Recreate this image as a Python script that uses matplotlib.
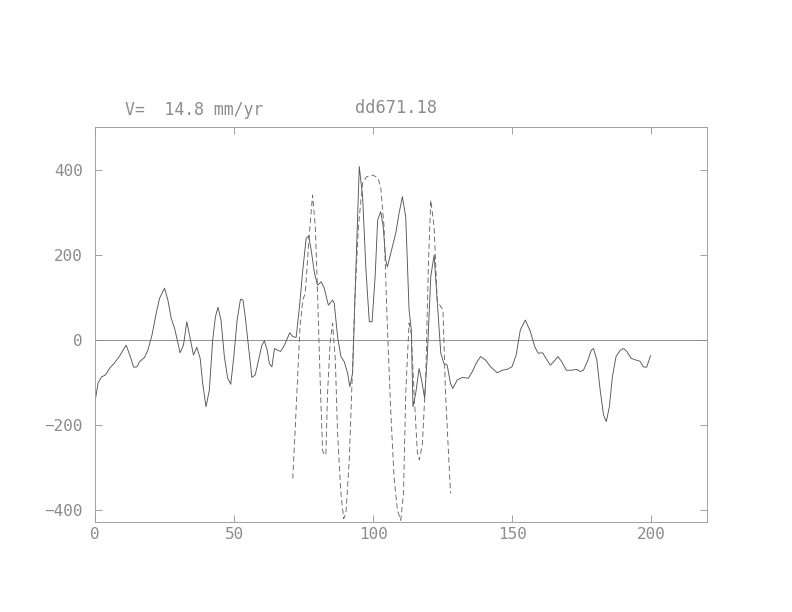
import numpy as np
import matplotlib
matplotlib.use('Agg')
import matplotlib.pyplot as plt

# Solid trace
x_solid = [0.2, 1.1, 2.3, 3.8, 5.3, 7.0, 8.8, 11.2, 12.7, 13.9, 15.1, 16.0, 17.8, 19.0,
           20.5, 22.0, 23.2, 25.0, 26.2, 27.4, 28.6, 30.6, 31.8, 33.0, 34.2, 35.4, 36.6,
           37.8, 38.7, 39.9, 41.1, 42.3, 43.3, 44.2, 45.3, 46.5, 47.7, 48.8, 49.9, 51.1,
           52.3, 53.2, 54.0, 55.2, 56.4, 57.6, 58.8, 60.0, 60.9, 61.9, 62.7, 63.6, 64.5,
           65.7, 66.7, 68.1, 70.0, 71.1, 72.3, 73.5, 74.7, 75.9, 76.8, 77.7, 78.9, 80.0,
           81.3, 82.4, 83.9, 85.4, 86.0, 87.2, 88.4, 89.6, 90.8, 91.6, 92.6, 93.5, 95.0,
           96.2, 97.4, 98.6, 99.6, 100.7, 101.6, 102.7, 103.6, 104.5, 105.1, 106.3, 108.1,
           109.3, 110.5, 111.7, 112.9, 113.7, 114.3, 115.3, 116.5, 117.4, 118.5, 119.5,
           120.7, 121.9, 123.0, 124.3, 125.4, 126.6, 127.8, 128.6, 130.2, 132.0, 134.2,
           135.6, 137.0, 138.6, 140.4, 142.2, 144.6, 146.4, 148.1, 149.9, 151.4, 152.9,
           154.7, 156.5, 158.1, 159.3, 160.9, 162.1, 163.7, 164.9, 166.4, 167.8, 169.4,
           171.4, 173.2, 174.4, 175.6, 177.2, 178.4, 179.2, 180.4, 181.6, 182.8, 183.8,
           184.9, 186.0, 187.3, 188.8, 190.0, 191.2, 192.7, 194.4, 195.9, 197.1, 198.3,
           199.7]
y_solid = [-137, -101, -87, -82, -66, -54, -38, -12, -39, -64, -63, -51, -41, -24,
           12, 63, 98, 122, 94, 51, 28, -30, -12, 43, 4, -35, -17,
           -43, -101, -157, -118, 0, 55, 77, 47, -39, -90, -104, -39, 47,
           96, 94, 55, -16, -88, -82, -47, -12, -2, -24, -56, -63, -20,
           -24, -27, -12, 17, 8, 6, 78, 165, 239, 245, 212, 157, 129,
           137, 122, 82, 94, 86, 8, -39, -51, -78, -110, -78, 110, 408,
           337, 165, 43, 43, 149, 282, 302, 267, 188, 172, 204, 251,
           298, 337, 290, 71, 24, -157, -125, -67, -94, -137, -31,
           149, 200, 94, -31, -55, -59, -102, -114, -94, -88, -90,
           -75, -55, -39, -47, -63, -77, -71, -69, -63, -35, 24,
           47, 20, -16, -31, -30, -43, -59, -51, -39, -51, -71,
           -71, -69, -74, -71, -47, -24, -20, -47, -118, -176, -192,
           -157, -86, -39, -24, -20, -27, -43, -47, -50, -63, -64,
           -37]

# Dashed trace
x_dash = [71.1, 72.0, 72.9, 73.7, 74.7, 75.6, 76.8, 78.2, 79.2, 80.0, 80.9, 81.8, 82.4,
          83.0, 83.6, 84.5, 85.4, 86.4, 87.2, 88.4, 89.4, 90.2, 91.4, 92.6, 93.5, 94.7,
          96.2, 97.6, 99.8, 101.6, 102.7, 103.9, 105.1, 106.3, 107.5, 108.7, 109.9, 110.9,
          111.7, 112.9, 113.7, 114.7, 115.9, 116.6, 117.7, 118.9, 119.9, 120.7, 121.9,
          123.0, 124.3, 125.1, 126.0, 127.2, 127.8]
y_dash = [-326, -204, -78, 31, 94, 110, 227, 341, 267, 110, -86, -259, -271,
          -267, -125, -8, 39, -47, -220, -361, -420, -408, -282, -63, 110, 267,
          369, 384, 388, 382, 361, 267, 31, -165, -322, -400, -424, -361,
          -125, 40, 16, -125, -267, -282, -243, -86, 188, 329, 267,
          94, 78, 71, -125, -282, -361]

label_col = '#8c8c8c'
font = 'DejaVu Sans Mono'
fig = plt.figure(figsize=(11, 8.5), dpi=72)
ax = fig.add_axes([95 / 792, 90 / 612, 612 / 792, 395 / 612])

ax.axhline(0, color='#888888', lw=0.9)
ax.plot(x_solid, y_solid, color='#555555', lw=0.9)
ax.plot(x_dash, y_dash, color='#666666', lw=0.9, dashes=(6, 3.5))

ax.set_xlim(0, 220)
ax.set_ylim(-428, 501)
ax.set_xticks([0, 50, 100, 150, 200])
ax.set_yticks([-400, -200, 0, 200, 400])
for s in ax.spines.values():
    s.set_color('#999999')
    s.set_linewidth(0.9)
ax.tick_params(direction='in', length=7, width=0.9, color='#999999',
               top=True, right=True, labelcolor=label_col, labelsize=16)
ax.tick_params(axis='y', pad=12)
ax.tick_params(axis='x', pad=5)
for lab in ax.get_xticklabels() + ax.get_yticklabels():
    lab.set_family(font)

fig.text(125 / 792, 1 - 110 / 612, 'V=  14.8 mm/yr', fontsize=16.5, color=label_col,
         family=font, va='center')
fig.text(355 / 792, 1 - 108 / 612, 'dd671.18', fontsize=17, color=label_col,
         family=font, va='center')

fig.savefig('out.png', dpi=72)
